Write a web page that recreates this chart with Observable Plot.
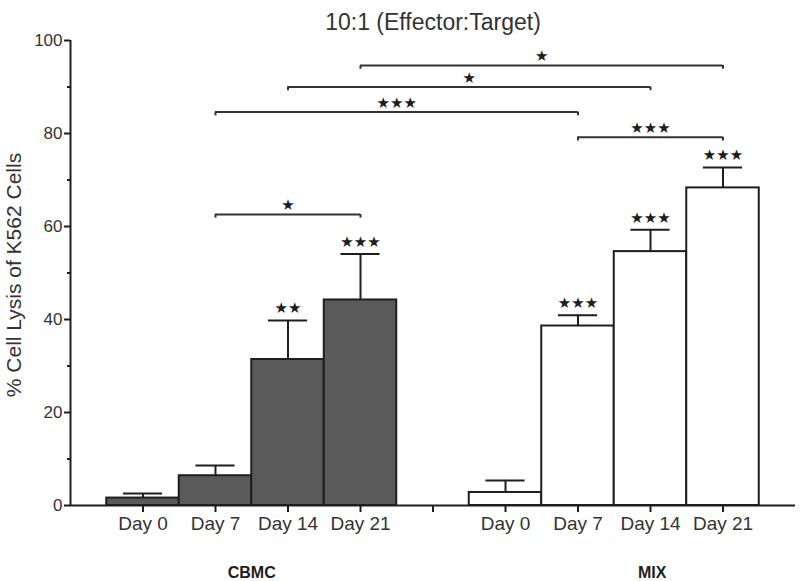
<!DOCTYPE html>
<html>
<head>
<meta charset="utf-8">
<script src="https://cdn.jsdelivr.net/npm/d3@7"></script>
<script src="https://cdn.jsdelivr.net/npm/@observablehq/plot@0.6"></script>
<style>
  html, body { margin: 0; padding: 0; background: #fff; }
  #chart svg { display: block; }
</style>
</head>
<body>
<div id="chart"></div>
<script>
// ---- data ----
const title = "10:1 (Effector:Target)";
const yLabel = "% Cell Lysis of K562 Cells";
const groups = ["CBMC", "MIX"];
const days = ["Day 0", "Day 7", "Day 14", "Day 21"];
const cbmcMean = [1.6, 6.4, 31.4, 44.2];
const cbmcErr  = [1.0, 2.2, 8.4, 9.9];
const mixMean  = [2.8, 38.6, 54.6, 68.3];
const mixErr   = [2.6, 2.3, 4.7, 4.4];
const cbmcStars = ["", "", "★★", "★★★"];
const mixStars  = ["", "★★★", "★★★", "★★★"];
const yMajorTicks = [0, 20, 40, 60, 80, 100];
const yMinorTicks = [10, 30, 50, 70, 90];
const bracketFrom  = ["CBMC Day 7", "CBMC Day 7", "CBMC Day 14", "CBMC Day 21", "MIX Day 7"];
const bracketTo    = ["CBMC Day 21", "MIX Day 7", "MIX Day 14", "MIX Day 21", "MIX Day 21"];
const bracketY     = [62.6, 84.6, 90.0, 94.6, 79.2];
const bracketStars = ["★", "★★★", "★", "★", "★★★"];

// ---- derived tables ----
const slots = [...days.map(d => `CBMC ${d}`), "", ...days.map(d => `MIX ${d}`)];
const pos = key => slots.indexOf(key) + 1;
const means = {CBMC: cbmcMean, MIX: mixMean};
const errs = {CBMC: cbmcErr, MIX: mixErr};
const stars = {CBMC: cbmcStars, MIX: mixStars};
const rows = groups.flatMap(g => days.map((d, i) => ({
  group: g, day: d, key: `${g} ${d}`, pos: pos(`${g} ${d}`),
  mean: means[g][i], err: errs[g][i], stars: stars[g][i]
})));
const brackets = bracketFrom.map((f, i) => ({
  p1: pos(f), p2: pos(bracketTo[i]), y: bracketY[i], label: bracketStars[i]
}));
const bracketEnds = brackets.flatMap(b => [{p: b.p1, y: b.y}, {p: b.p2, y: b.y}]);
const groupLabels = groups.map(g => ({
  group: g, x: d3.mean(rows.filter(r => r.group === g), r => r.pos)
}));

const ink = "#1e1e1e";
const font = "'Liberation Sans', Arial, Helvetica, sans-serif";
const starFont = "'DejaVu Sans', sans-serif";

const chart = Plot.plot({
  width: 800,
  height: 581,
  marginLeft: 70,
  marginRight: 5,
  marginTop: 40,
  marginBottom: 76,
  style: {fontFamily: font, color: ink, background: "#fff"},
  x: {type: "linear", domain: [0, slots.length + 1], axis: null},
  y: {domain: [0, 100], axis: null},
  marks: [
    // bars
    Plot.rectY(rows.filter(r => r.group === "CBMC"), {
      x1: r => r.pos - 0.5, x2: r => r.pos + 0.5, y1: 0, y2: "mean",
      fill: "#5a5a5a", stroke: ink, strokeWidth: 2
    }),
    Plot.rectY(rows.filter(r => r.group === "MIX"), {
      x1: r => r.pos - 0.5, x2: r => r.pos + 0.5, y1: 0, y2: "mean",
      fill: "#fff", stroke: ink, strokeWidth: 2
    }),
    // error bars
    Plot.ruleX(rows, {x: "pos", y1: "mean", y2: r => r.mean + r.err, stroke: ink, strokeWidth: 2}),
    Plot.ruleY(rows, {y: r => r.mean + r.err, x1: r => r.pos - 0.27, x2: r => r.pos + 0.27, stroke: ink, strokeWidth: 2}),
    // significance above bars
    Plot.text(rows, {x: "pos", y: r => r.mean + r.err, text: "stars", dy: -12,
      fontSize: 15, fontFamily: starFont, fill: ink}),
    // comparison brackets
    Plot.ruleY(brackets, {y: "y", x1: "p1", x2: "p2", stroke: "#333", strokeWidth: 2}),
    Plot.ruleX(bracketEnds, {x: "p", y1: "y", y2: d => d.y - 0.8, stroke: "#333", strokeWidth: 2}),
    Plot.text(brackets, {x: d => (d.p1 + d.p2) / 2, y: "y", text: "label", dy: -9,
      fontSize: 15, fontFamily: starFont, fill: ink}),
    // axes lines
    Plot.ruleX([0], {y1: 0, y2: 100, stroke: ink, strokeWidth: 2}),
    Plot.ruleY([0], {x1: 0, x2: slots.length + 1, stroke: ink, strokeWidth: 2}),
    // y axis ticks
    Plot.axisY({ticks: yMajorTicks, tickSize: 6, tickPadding: 2, fontSize: 17,
      strokeWidth: 2, label: null, fill: "#333"}),
    Plot.axisY({ticks: yMinorTicks, tickSize: 3, tickFormat: () => "", strokeWidth: 2, label: null}),
    // x axis ticks
    Plot.axisX({ticks: d3.range(1, slots.length + 1), tickSize: 7, tickPadding: 4,
      tickFormat: i => { const s = slots[i - 1]; return s ? s.replace(/^(CBMC|MIX) /, "") : ""; },
      fontSize: 19, strokeWidth: 2, label: null, fill: "#333"}),
    // group labels
    Plot.text(groupLabels.filter(g => g.group === "CBMC"), {x: "x", y: 0, text: "group", dy: 67,
      fontSize: 16, fontWeight: "bold", fill: ink}),
    Plot.text(groupLabels.filter(g => g.group === "MIX"), {x: "x", y: 0, text: "group", dy: 67, dx: 38,
      fontSize: 16, fontWeight: "bold", fill: ink}),
    // y label
    Plot.text([yLabel], {frameAnchor: "left", textAnchor: "middle", dx: -56, dy: 2, rotate: -90,
      fontSize: 21, fill: "#333"}),
    // title
    Plot.text([title], {frameAnchor: "top", dy: -27, fontSize: 23, fill: "#333"})
  ]
});
document.getElementById("chart").appendChild(chart);
</script>
</body>
</html>
